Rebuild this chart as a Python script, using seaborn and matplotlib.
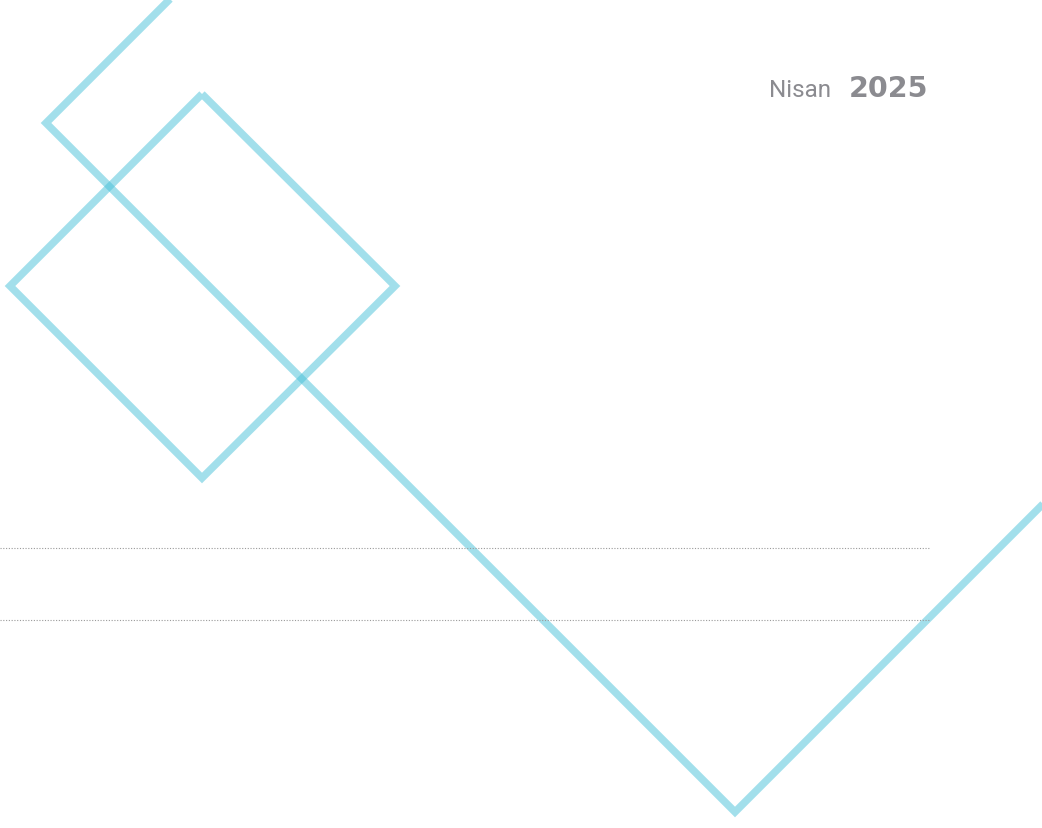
import matplotlib
matplotlib.use("Agg")
import matplotlib.pyplot as plt
import seaborn as sns
import pandas as pd

# polyline vertices in page pixels (x right, y down)
outer_x = [180, 46, 735, 1052]
outer_y = [-10, 124, 813, 496]
diamond_x = [202, 10, 202, 395, 202]
diamond_y = [95, 287, 479, 287, 95]
rule_y = [549, 621]
rule_x_end = 930
month_label = "Nisan"
year_label = "2025"

W, H = 1042, 829

sns.set_theme(style="white")
plt.rcParams["font.family"] = ["Roboto", "DejaVu Sans"]

fig = plt.figure(figsize=(W / 100, H / 100), dpi=100)
ax = fig.add_axes([0, 0, 1, 1])
ax.set_xlim(0, W)
ax.set_ylim(H, 0)
ax.axis("off")

line_color = "#47c1d9"
for name, xs, ys in [("outer", outer_x, outer_y), ("diamond", diamond_x, diamond_y)]:
    df = pd.DataFrame({"x": xs, "y": ys})
    sns.lineplot(data=df, x="x", y="y", sort=False, estimator=None, ax=ax,
                 color=line_color, alpha=0.5, linewidth=5.4,
                 solid_joinstyle="miter", solid_capstyle="butt")

ax.hlines(rule_y, 0, rule_x_end, colors="#9a9a9a", linestyles=(0, (1, 1.5)), linewidth=0.8)

ax.text(769, 97, month_label, ha="left", va="baseline", fontsize=17.5,
        color="#8b8b90")
ax.text(928, 97, year_label, ha="right", va="baseline", fontsize=20.5,
        fontweight="bold", family="DejaVu Sans", color="#8b8b90")

fig.savefig("out.png", dpi=100)
